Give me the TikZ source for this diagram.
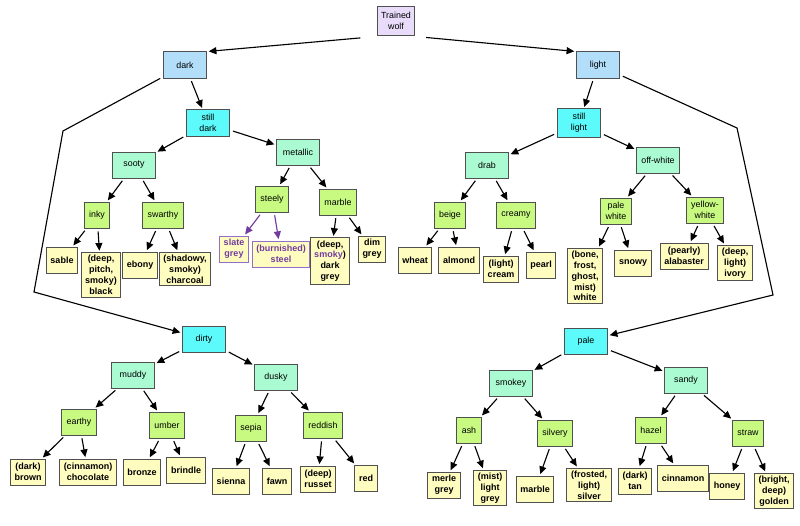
\documentclass[tikz,border=0pt]{standalone}
\usepackage{fontspec}
\setmainfont{Liberation Sans}
\usepackage{tikz}
\usetikzlibrary{arrows.meta}

\definecolor{boxline}{RGB}{80,80,80}
\definecolor{rootfill}{RGB}{232,220,250}
\definecolor{tonefill}{RGB}{178,222,250}
\definecolor{stillfill}{RGB}{92,250,250}
\definecolor{familyfill}{RGB}{170,250,210}
\definecolor{kindfill}{RGB}{200,250,130}
\definecolor{leaffill}{RGB}{255,252,192}
\definecolor{oddtext}{RGB}{112,60,160}
\definecolor{oddline}{RGB}{150,110,200}

\tikzset{
  box/.style={draw=boxline, line width=0.7pt, align=center,
    font=\fontsize{6.3}{7.6}\selectfont, minimum height=18.5pt},
  root/.style={box, fill=rootfill, inner xsep=2.5pt, inner ysep=4.5pt},
  tone/.style={box, fill=tonefill, minimum width=31pt},
  still/.style={box, fill=stillfill, minimum width=31pt},
  family/.style={box, fill=familyfill, minimum width=31pt},
  kind/.style={box, fill=kindfill, inner xsep=3.5pt, inner ysep=2pt},
  leaf/.style={box, fill=leaffill, font=\bfseries\fontsize{6.4}{7.7}\selectfont,
    inner xsep=3pt, inner ysep=2pt},
  oddleaf/.style={leaf, draw=oddline, text=oddtext},
  link/.style={-{Triangle[length=5.5pt,width=5pt]}, line width=0.8pt,
    shorten <=2pt, shorten >=1pt},
  oddlink/.style={link, draw=oddtext, fill=oddtext}
}

\begin{document}
\begin{tikzpicture}[x=0.025cm, y=-0.025cm]
\useasboundingbox (0,0) rectangle (800,525);

% top half
\node[root] (wolf) at (396,21) {Trained\\wolf};
\node[tone] (dark) at (185,65) {dark};
\node[tone] (light) at (598,65) {light};
\node[still] (stilldark) at (208,123) {still\\dark};
\node[still] (stilllight) at (579,123) {still\\light};
\node[family] (sooty) at (134,165) {sooty};
\node[family] (metallic) at (298,152) {metallic};
\node[family] (drab) at (487,165) {drab};
\node[family] (offwhite) at (658,160) {off-white};
\node[kind] (inky) at (97,215) {inky};
\node[kind] (swarthy) at (163,215) {swarthy};
\node[kind] (steely) at (272,199) {steely};
\node[kind] (marbled) at (338,202) {marble};
\node[kind] (beige) at (450,215) {beige};
\node[kind] (creamy) at (516,215) {creamy};
\node[kind] (palewhite) at (616,211) {pale\\white};
\node[kind] (yellowwhite) at (705,210) {yellow-\\white};
\node[leaf] (sable) at (62,260) {sable};
\node[leaf] (black) at (101,275) {(deep,\\pitch,\\smoky)\\black};
\node[leaf] (ebony) at (140,265) {ebony};
\node[leaf] (charcoal) at (185,269) {(shadowy,\\smoky)\\charcoal};
\node[oddleaf] (slate) at (234,249) {slate\\grey};
\node[oddleaf] (steel) at (281,254) {(burnished)\\steel};
\node[leaf] (darkgrey) at (330,261) {(deep,\\\textcolor{oddtext}{smoky})\\dark\\grey};
\node[leaf] (dimgrey) at (372,249) {dim\\grey};
\node[leaf] (wheat) at (415,260) {wheat};
\node[leaf] (almond) at (459,260) {almond};
\node[leaf] (cream) at (501,269) {(light)\\cream};
\node[leaf] (pearl) at (541,265) {pearl};
\node[leaf] (white) at (585,276) {(bone,\\frost,\\ghost,\\mist)\\white};
\node[leaf] (snowy) at (633,263) {snowy};
\node[leaf] (alabaster) at (684,256) {(pearly)\\alabaster};
\node[leaf] (ivory) at (735,263) {(deep,\\light)\\ivory};

% bottom half
\node[still] (dirty) at (204,339) {dirty};
\node[still] (pale) at (586,341) {pale};
\node[family] (muddy) at (133,375) {muddy};
\node[family] (dusky) at (276,377) {dusky};
\node[family] (smokey) at (511,383) {smokey};
\node[family] (sandy) at (686,380) {sandy};
\node[kind] (earthy) at (79,422) {earthy};
\node[kind] (umber) at (167,425) {umber};
\node[kind] (sepia) at (251,428) {sepia};
\node[kind] (reddish) at (323,425) {reddish};
\node[kind] (ash) at (469,430) {ash};
\node[kind] (silvery) at (555,433) {silvery};
\node[kind] (hazel) at (651,430) {hazel};
\node[kind] (straw) at (748,433) {straw};
\node[leaf] (brown) at (28,472) {(dark)\\brown};
\node[leaf] (chocolate) at (88,472) {(cinnamon)\\chocolate};
\node[leaf] (bronze) at (142,472) {bronze};
\node[leaf] (brindle) at (186,470) {brindle};
\node[leaf] (sienna) at (231,481) {sienna};
\node[leaf] (fawn) at (277,481) {fawn};
\node[leaf] (russet) at (318,479) {(deep)\\russet};
\node[leaf] (red) at (366,478) {red};
\node[leaf] (merle) at (444,485) {merle\\grey};
\node[leaf] (lightgrey) at (490,488) {(mist)\\light\\grey};
\node[leaf] (marble) at (535,489) {marble};
\node[leaf] (silver) at (589,485) {(frosted,\\light)\\silver};
\node[leaf] (tan) at (635,481) {(dark)\\tan};
\node[leaf] (cinnamon) at (683,478) {cinnamon};
\node[leaf] (honey) at (727,486) {honey};
\node[leaf] (golden) at (774,491) {(bright,\\deep)\\golden};

\coordinate (bendDA) at (63,131);
\coordinate (bendDB) at (34,292);
\coordinate (bendLA) at (737,128);
\coordinate (bendLB) at (773,295);

\draw[link, shorten <=12pt] (wolf.south west) -- (dark.north east);
\draw[link, shorten <=8pt] (wolf.south east) -- (light.north west);
\draw[link] (dark) -- (bendDA) -- (bendDB) -- (dirty);
\draw[link] (light) -- (bendLA) -- (bendLB) -- (pale);

\foreach \from/\to in
{dark/stilldark,light/stilllight,stilldark/sooty,stilldark/metallic,
stilllight/drab,stilllight/offwhite,sooty/inky,sooty/swarthy,
metallic/steely,metallic/marbled,drab/beige,drab/creamy,
offwhite/palewhite,offwhite/yellowwhite,inky/sable,inky/black,
swarthy/ebony,swarthy/charcoal,marbled/darkgrey,marbled/dimgrey,
beige/wheat,beige/almond,creamy/cream,creamy/pearl,palewhite/white,
palewhite/snowy,yellowwhite/alabaster,yellowwhite/ivory,
dirty/muddy,dirty/dusky,muddy/earthy,muddy/umber,dusky/sepia,
dusky/reddish,earthy/brown,earthy/chocolate,umber/bronze,umber/brindle,
sepia/sienna,sepia/fawn,reddish/russet,reddish/red,pale/smokey,
pale/sandy,smokey/ash,smokey/silvery,sandy/hazel,sandy/straw,
ash/merle,ash/lightgrey,silvery/marble,silvery/silver,hazel/tan,
hazel/cinnamon,straw/honey,straw/golden}
\draw[link] (\from) -- (\to);

\foreach \to in {slate,steel}
\draw[oddlink] (steely) -- (\to);
\end{tikzpicture}
\end{document}
